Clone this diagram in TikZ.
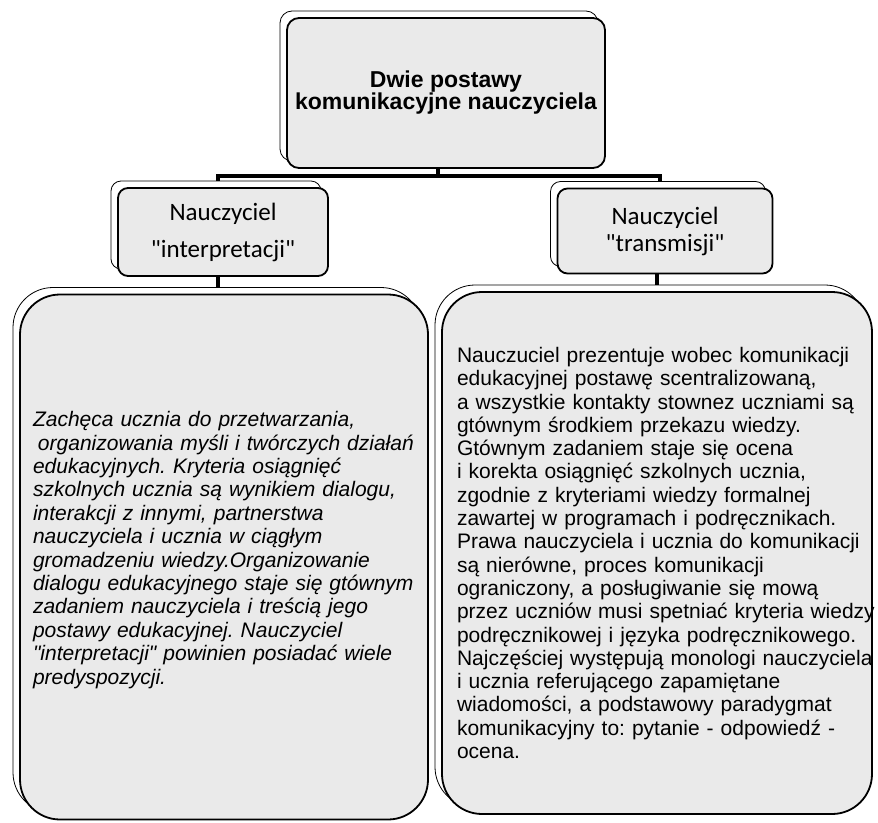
\documentclass[tikz,border=0pt]{standalone}
\usepackage{fontspec}
\setmainfont{Liberation Sans}[Ligatures=TeXOff]
\newfontfamily\carlito{Carlito}
\usetikzlibrary{shadows,backgrounds}
\definecolor{boxgray}{RGB}{234,234,234}
\frenchspacing

\begin{document}
\begin{tikzpicture}[x=1pt, y=-1pt,
  box/.style={draw=black, line width=1.8pt, fill=boxgray,
    copy shadow={shadow xshift=-7pt, shadow yshift=7pt, fill=white, draw=black, line width=0.8pt}},
  conn/.style={draw=black, line width=4pt}]
  \useasboundingbox (0,0) rectangle (878,822);
  \node[box, rounded corners=12pt, minimum width=318pt, minimum height=150pt, align=center, font=\fontsize{23}{22}\selectfont\bfseries] (top) at (446,93) {Dwie postawy\\komunikacyjne nauczyciela};
  \node[box, rounded corners=10pt, minimum width=210pt, minimum height=88pt, align=center, font=\carlito\fontsize{25}{37}\selectfont] (interp) at (223,232) {Nauczyciel\\"interpretacji"};
  \node[box, rounded corners=10pt, minimum width=215pt, minimum height=85pt, align=center, font=\carlito\fontsize{25}{27}\selectfont] (trans) at (665,231) {Nauczyciel\\"transmisji"};
  \node[box, rounded corners=40pt, minimum height=525pt, text width=382pt, inner xsep=13pt, align=left, font=\fontsize{21}{23.4}\selectfont\itshape] (interptext) at (224,557) {Zachęca ucznia do przetwarzania,\\
    \hspace*{5pt}organizowania myśli i twórczych działań\\
    edukacyjnych. Kryteria osiągnięć\\
    szkolnych ucznia są wynikiem dialogu,\\
    interakcji z innymi, partnerstwa\\
    nauczyciela i ucznia w ciągłym\\
    gromadzeniu wiedzy.Organizowanie\\
    dialogu edukacyjnego staje się gtównym\\
    zadaniem nauczyciela i treścią jego\\
    postawy edukacyjnej. Nauczyciel\\
    "interpretacji" powinien posiadać wiele\\
    predyspozycji.\\[-5pt]\mbox{}};
  \node[box, rounded corners=40pt, minimum height=522pt, text width=400pt, inner xsep=15pt, align=left, font=\fontsize{21}{23.3}\selectfont] (transtext) at (657,553) {Nauczuciel prezentuje wobec komunikacji\\
    edukacyjnej postawę scentralizowaną,\\
    \mbox{a wszystkie kontakty stownez uczniami są}\\
    gtównym środkiem przekazu wiedzy.\\
    Gtównym zadaniem staje się ocena\\
    i korekta osiągnięć szkolnych ucznia,\\
    zgodnie z kryteriami wiedzy formalnej\\
    zawartej w programach i podręcznikach.\\
    \mbox{Prawa nauczyciela i ucznia do komunikacji}\\
    są nierówne, proces komunikacji\\
    ograniczony, a posługiwanie się mową\\
    \mbox{przez uczniów musi spetniać kryteria wiedzy}\\
    \mbox{podręcznikowej i języka podręcznikowego.}\\
    \mbox{Najczęściej występują monologi nauczyciela}\\
    i ucznia referującego zapamiętane\\
    wiadomości, a podstawowy paradygmat\\
    komunikacyjny to: pytanie - odpowiedź -\\
    ocena.};
  % connectors behind the boxes
  \begin{scope}[on background layer]
    \draw[conn] ([xshift=-8pt]top.south) -- ++(0,7) -| ([xshift=-5pt]interp.north);
    \draw[conn] ([xshift=-8pt]top.south) -- ++(0,7) -| ([xshift=-5pt]trans.north);
    \draw[conn] ([xshift=-5pt]interp.south) -- ([xshift=-5pt]interp.south |- interptext.north);
    \draw[conn] ([xshift=-8pt]trans.south) -- ([xshift=-8pt]trans.south |- transtext.north);
  \end{scope}
\end{tikzpicture}
\end{document}
